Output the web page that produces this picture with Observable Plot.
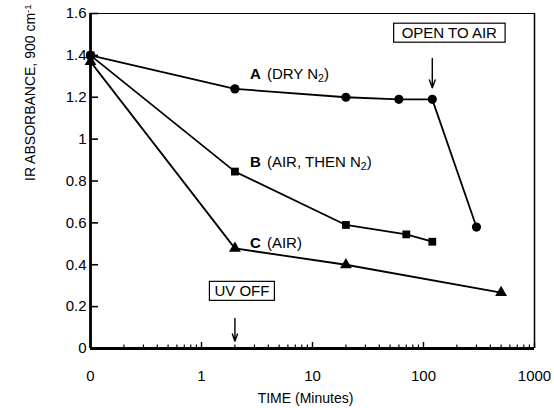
<!DOCTYPE html>
<html><head><meta charset="utf-8">
<script src="https://cdn.jsdelivr.net/npm/d3@7"></script>
<script src="https://cdn.jsdelivr.net/npm/@observablehq/plot@0.6"></script>
<style>
body{margin:0;background:#fff}
#chart{width:554px;height:408px}
</style>
</head><body><div id="chart"></div>
<script>
// ---- data ----
const timesA  = [0, 2, 20, 60, 120, 300];
const valuesA = [1.40, 1.24, 1.20, 1.19, 1.19, 0.58];
const timesB  = [0, 2, 20, 70, 120];
const valuesB = [1.40, 0.845, 0.59, 0.545, 0.51];
const timesC  = [0, 2, 20, 500];
const valuesC = [1.37, 0.478, 0.40, 0.267];

const seriesNames  = ["A", "B", "C"];
const seriesLabels = ["(DRY N_{2})", "(AIR, THEN N_{2})", "(AIR)"];
const seriesSymbols = ["circle", "square", "triangle"];

const xTickValues = [0.1, 1, 10, 100, 1000];
const xTickLabels = ["0", "1", "10", "100", "1000"];
const yTickValues = [0, 0.2, 0.4, 0.6, 0.8, 1, 1.2, 1.4, 1.6];
const yTickLabels = ["0", "0.2", "0.4", "0.6", "0.8", "1", "1.2", "1.4", "1.6"];

// position where t = 0 is drawn on the logarithmic time axis
const ZERO_AT = 0.1;

// annotations
const openToAirTime = 120, openToAirText = "OPEN TO AIR";
const uvOffTime = 2, uvOffText = "UV OFF";

// ---- build tables ----
const toRows = (name, ts, vs) => ts.map((t, i) => ({series: name, t, v: vs[i]}));
const rows = [
  ...toRows("A", timesA, valuesA),
  ...toRows("B", timesB, valuesB),
  ...toRows("C", timesC, valuesC)
];
const xPos = d => (d.t === 0 ? ZERO_AT : d.t);
const labelAnchors = seriesNames.map((s, i) => {
  const r = rows.find(d => d.series === s && d.t === 2);
  return {series: s, label: seriesLabels[i], t: r.t, v: r.v};
});
const minorTicks = [];
for (const base of [0.1, 1, 10, 100]) for (let k = 2; k <= 9; k++) minorTicks.push(+(base * k).toPrecision(3));

const font = "'Liberation Sans', Arial, Helvetica, sans-serif";

const chart = Plot.plot({
  width: 554, height: 408,
  marginLeft: 90, marginRight: 20, marginTop: 13, marginBottom: 60,
  style: {fontFamily: font, fontSize: "15px", color: "#000", background: "#fff"},
  x: {type: "log", domain: [ZERO_AT, 1000]},
  y: {domain: [0, 1.6]},
  marks: [
    // y axis labels and inward ticks
    Plot.axisY(yTickValues, {tickSize: 0, tickPadding: 4, label: null,
      tickFormat: d => yTickLabels[yTickValues.indexOf(d)], fontSize: 15}),
    Plot.axisY(yTickValues, {tickSize: 8, dx: 8, label: null, tickFormat: () => "", strokeWidth: 1.6}),
    // x axis labels and inward ticks
    Plot.axisX(xTickValues, {tickSize: 0, tickPadding: 22, label: null,
      tickFormat: d => xTickLabels[xTickValues.indexOf(d)], fontSize: 15}),
    Plot.axisX(xTickValues.slice(1), {tickSize: 6, dy: -6, label: null, tickFormat: () => "", strokeWidth: 1.4}),
    Plot.axisX(minorTicks, {tickSize: 3.5, dy: -3.5, label: null, tickFormat: () => "", strokeWidth: 1.2}),
    // frame
    Plot.ruleY([1.6], {strokeWidth: 1.2}),
    Plot.ruleX([1000], {strokeWidth: 1.5}),
    Plot.ruleY([0], {strokeWidth: 2.8}),
    Plot.ruleX([ZERO_AT], {strokeWidth: 2.8}),
    // series
    Plot.line(rows, {x: xPos, y: "v", z: "series", stroke: "#000", strokeWidth: 1.8}),
    ...seriesNames.map((s, i) =>
      Plot.dot(rows.filter(d => d.series === s), {x: xPos, y: "v", symbol: seriesSymbols[i],
        r: i === 0 ? 4.6 : 4.4, fill: "#000", stroke: "none"})),
    // series labels
    Plot.text(labelAnchors, {x: "t", y: "v", text: "series", textAnchor: "start",
      fontWeight: "bold", fontSize: 15}),
    Plot.text(labelAnchors, {x: "t", y: "v", text: "label", textAnchor: "start", fontSize: 15}),
    // annotations
    Plot.text([openToAirText], {x: openToAirTime, y: 1.505, dx: 17, fontSize: 15}),
    Plot.arrow([openToAirTime], {x1: d => d, x2: d => d, y1: 1.385, y2: 1.245,
      stroke: "#000", strokeWidth: 1.4, headLength: 9, headAngle: 40}),
    Plot.text([uvOffText], {x: uvOffTime, y: 0.272, dx: 7, fontSize: 15}),
    Plot.arrow([uvOffTime], {x1: d => d, x2: d => d, y1: 0.143, y2: 0.035,
      stroke: "#000", strokeWidth: 1.4, headLength: 9, headAngle: 40}),
    // axis titles
    Plot.text(["IR ABSORBANCE, 900 cm^{-1}"], {frameAnchor: "left", rotate: -90, dx: -60, fontSize: 14}),
    Plot.text(["TIME (Minutes)"], {frameAnchor: "bottom", dy: 50, dx: -7, lineAnchor: "middle", fontSize: 14})
  ]
});

document.getElementById("chart").append(chart);

const svg = chart.tagName.toLowerCase() === "svg" ? chart : chart.querySelector("svg");
const NS = "http://www.w3.org/2000/svg";

// offsets for the series label groups (bold letter group and description group)
const textGroups = [...svg.querySelectorAll("g[aria-label='text']")];
textGroups.forEach(g => {
  const texts = [...g.querySelectorAll("text")];
  if (texts.length !== 3) return;
  const isLetters = texts.every(t => seriesNames.includes(t.textContent));
  texts.forEach((t, i) => {
    const dx = isLetters ? 15 : 32;
    const dy = [-15, -9, -5][i];
    t.setAttribute("transform", (t.getAttribute("transform") || "") + ` translate(${dx},${dy})`);
  });
});

// sub/superscripts
svg.querySelectorAll("text").forEach(t => {
  const s = t.textContent;
  if (!/[_^]\{/.test(s)) return;
  const parts = s.split(/([_^]\{[^}]*\})/).filter(p => p !== "");
  t.textContent = "";
  parts.forEach(p => {
    const m = p.match(/^([_^])\{(.*)\}$/);
    const ts = document.createElementNS(NS, "tspan");
    if (m) {
      ts.textContent = m[2];
      ts.setAttribute("font-size", "70%");
      ts.setAttribute("baseline-shift", m[1] === "_" ? "-30%" : "45%");
    } else ts.textContent = p;
    t.appendChild(ts);
  });
});

// boxes around annotation texts
svg.querySelectorAll("text").forEach(t => {
  const s = t.textContent;
  if (s !== openToAirText && s !== uvOffText) return;
  const b = t.getBBox();
  const padX = s === openToAirText ? 8 : 5, padY = 1;
  const r = document.createElementNS(NS, "rect");
  r.setAttribute("x", b.x - padX);
  r.setAttribute("y", b.y - padY);
  r.setAttribute("width", b.width + 2 * padX);
  r.setAttribute("height", b.height + 2 * padY);
  r.setAttribute("fill", "#fff");
  r.setAttribute("stroke", "#000");
  r.setAttribute("stroke-width", "1.2");
  if (t.getAttribute("transform")) r.setAttribute("transform", t.getAttribute("transform"));
  t.parentNode.insertBefore(r, t);
});
</script>
</body></html>
